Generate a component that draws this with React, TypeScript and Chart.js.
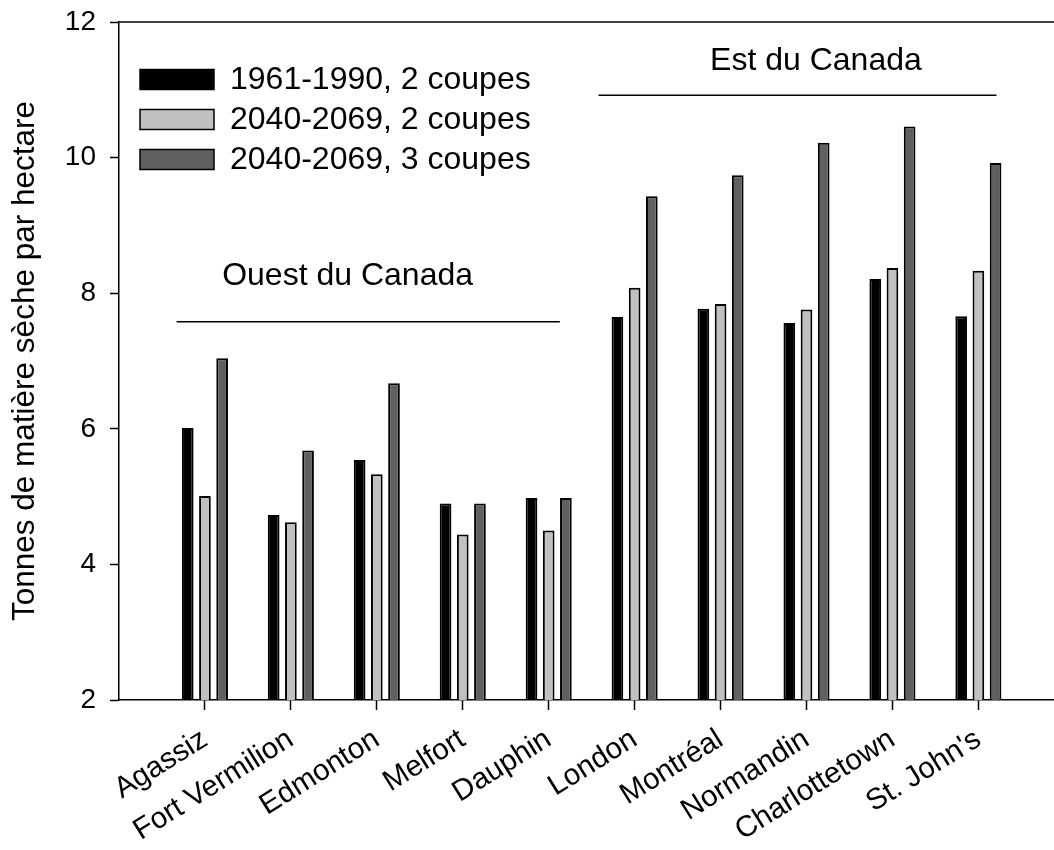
import React, { useEffect, useRef } from 'react';
import { Chart, registerables } from 'chart.js';

Chart.register(...registerables);

const categories = ['Agassiz', 'Fort Vermilion', 'Edmonton', 'Melfort', 'Dauphin', 'London', 'Montréal', 'Normandin', 'Charlottetown', "St. John's"];
const seriesLabels = ['1961-1990, 2 coupes', '2040-2069, 2 coupes', '2040-2069, 3 coupes'];
const seriesColors = ['#000000', '#c0c0c0', '#606060'];
const base1961_2 = [6.01, 4.73, 5.54, 4.90, 4.98, 7.65, 7.77, 7.56, 8.21, 7.66];
const future2040_2 = [5.01, 4.62, 5.33, 4.44, 4.50, 8.08, 7.84, 7.76, 8.37, 8.33];
const future2040_3 = [7.04, 5.68, 6.67, 4.90, 4.98, 9.43, 9.74, 10.22, 10.46, 9.92];
const yTicks = [2, 4, 6, 8, 10, 12];
const yTitle = 'Tonnes de matière sèche par hectare';

// Regional groupings (in data units: category index on x, value on y)
const regionLabels = ['Ouest du Canada', 'Est du Canada'];
const regionSpanFrom = [-0.33, 4.58];
const regionSpanTo = [4.13, 9.21];
const regionLineValue = [7.58, 10.92];
const regionTextIndex = [1.66, 7.11];
const regionTextValue = [8.25, 11.42];

const FONT = 'Arial, "Liberation Sans", Helvetica, sans-serif';

const decorPlugin = {
  id: 'decor',
  afterDraw(chart: any) {
    const { ctx, chartArea, scales } = chart;
    const xs = scales.x;
    const ys = scales.y;
    ctx.save();
    ctx.strokeStyle = '#000';
    ctx.lineWidth = 1.5;
    // top frame line
    ctx.beginPath();
    ctx.moveTo(chartArea.left, chartArea.top);
    ctx.lineTo(chartArea.right, chartArea.top);
    ctx.stroke();

    // region annotations
    ctx.fillStyle = '#000';
    ctx.font = `32px ${FONT}`;
    ctx.textAlign = 'center';
    ctx.textBaseline = 'middle';
    regionLabels.forEach((label, i) => {
      const y = ys.getPixelForValue(regionLineValue[i]);
      ctx.beginPath();
      ctx.moveTo(xs.getPixelForValue(regionSpanFrom[i]), y);
      ctx.lineTo(xs.getPixelForValue(regionSpanTo[i]), y);
      ctx.stroke();
      ctx.fillText(label, xs.getPixelForValue(regionTextIndex[i]), ys.getPixelForValue(regionTextValue[i]));
    });

    // legend
    const boxLeft = chartArea.left + 21;
    const boxW = 74;
    const boxH = 20;
    const firstY = chartArea.top + 57.5;
    const rowGap = 40;
    ctx.textAlign = 'left';
    chart.data.datasets.forEach((ds: any, i: number) => {
      const cy = firstY + i * rowGap;
      ctx.fillStyle = ds.backgroundColor;
      ctx.fillRect(boxLeft, cy - boxH / 2, boxW, boxH);
      ctx.strokeStyle = '#000';
      ctx.lineWidth = 1.5;
      ctx.strokeRect(boxLeft, cy - boxH / 2, boxW, boxH);
      ctx.fillStyle = '#000';
      ctx.fillText(ds.label, boxLeft + boxW + 16, cy + 1);
    });
    ctx.restore();
  },
};

export default function App() {
  const ref = useRef<HTMLCanvasElement | null>(null);

  useEffect(() => {
    if (!ref.current) return;
    const seriesValues = [base1961_2, future2040_2, future2040_3];
    const chart = new Chart(ref.current, {
      type: 'bar',
      data: {
        datasets: seriesValues.map((vals, s) => ({
          label: seriesLabels[s],
          data: vals.map((v, i) => ({ x: i, y: v })),
          backgroundColor: seriesColors[s],
          borderColor: '#000000',
          borderWidth: 2,
          categoryPercentage: 0.6,
          barPercentage: 0.68,
        })),
      },
      options: {
        animation: false,
        responsive: false,
        devicePixelRatio: 1,
        layout: { padding: { top: 22, left: 0, right: 0, bottom: 0 } },
        plugins: {
          legend: { display: false },
          tooltip: { enabled: false },
        },
        scales: {
          x: {
            type: 'linear',
            min: -1,
            max: 9.88,
            offset: false,
            z: 1,
            afterBuildTicks: (scale: any) => {
              scale.ticks = categories.map((_, i) => ({ value: i }));
            },
            afterFit: (scale: any) => {
              scale.height = 150;
              scale.paddingLeft = 0;
              scale.paddingRight = 0;
            },
            ticks: {
              autoSkip: false,
              minRotation: 32,
              maxRotation: 32,
              padding: 12,
              color: '#000',
              font: { family: FONT, size: 29.5 },
              callback: (value: any) => categories[Math.round(Number(value))] ?? '',
            },
            grid: { offset: false, drawOnChartArea: false, drawTicks: true, tickLength: 10, tickWidth: 1.5, tickColor: '#000' },
            border: { display: true, color: '#000', width: 1.5 },
          },
          y: {
            min: 2,
            max: 12,
            z: 1,
            afterBuildTicks: (scale: any) => {
              scale.ticks = yTicks.map((v) => ({ value: v }));
            },
            afterFit: (scale: any) => {
              scale.width = 119;
              scale.paddingTop = 0;
              scale.paddingBottom = 0;
            },
            ticks: {
              padding: 14,
              color: '#000',
              font: { family: FONT, size: 28 },
            },
            grid: { drawOnChartArea: false, drawTicks: true, tickLength: 9, tickWidth: 1.5, tickColor: '#000' },
            border: { display: true, color: '#000', width: 1.5 },
            title: {
              display: true,
              text: yTitle,
              color: '#000',
              font: { family: FONT, size: 31.5 },
              padding: { top: 6, bottom: 0 },
            },
          },
        },
      },
      plugins: [decorPlugin],
    } as any);
    return () => chart.destroy();
  }, []);

  return (
    <div style={{ position: 'absolute', left: 0, top: 0, width: 1054, height: 850, background: '#fff' }}>
      <canvas ref={ref} width={1054} height={850} style={{ display: 'block' }} />
    </div>
  );
}
